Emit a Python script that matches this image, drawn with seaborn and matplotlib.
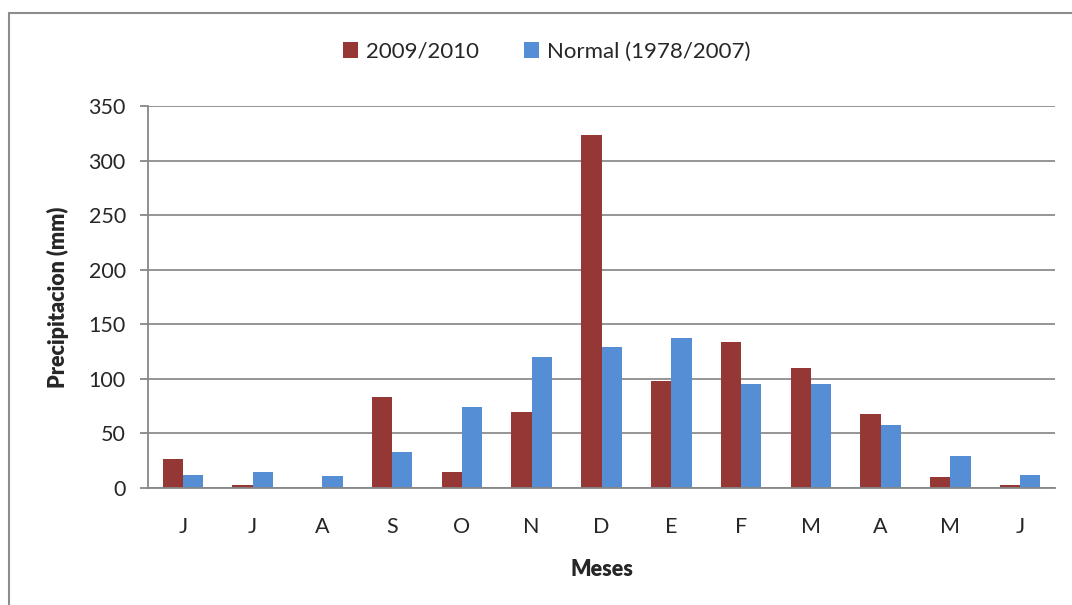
import matplotlib
matplotlib.use("Agg")
import matplotlib.pyplot as plt
import seaborn as sns
import pandas as pd
from matplotlib.lines import Line2D

months = ["J", "J", "A", "S", "O", "N", "D", "E", "F", "M", "A", "M", "J"]
series_names = ["2009/2010", "Normal (1978/2007)"]
vals_2009 = [27, 3, 0, 83, 15, 70, 323, 98, 134, 110, 68, 10, 3]
vals_normal = [12, 15, 11, 33, 74, 120, 129, 137, 95, 95, 58, 29, 12]
y_ticks = [0, 50, 100, 150, 200, 250, 300, 350]
colors = ["#953735", "#558ED5"]

rows = []
for i, m in enumerate(months):
    rows.append({"idx": i, "Serie": series_names[0], "val": vals_2009[i]})
    rows.append({"idx": i, "Serie": series_names[1], "val": vals_normal[i]})
df = pd.DataFrame(rows)

sns.set_theme(style="white")
plt.rcParams['font.family'] = ['Lato', 'DejaVu Sans']

fig = plt.figure(figsize=(10.72, 6.05), dpi=100)
ax = fig.add_axes([148/1072, 1-488/605, (1055-148)/1072, (488-106)/605])

sns.barplot(data=df, x="idx", y="val", hue="Serie", palette=colors,
            width=0.58, ax=ax, saturation=1, legend=True, linewidth=0)

ax.set_ylim(0, 350)
ax.set_xlim(-0.5, len(months) - 0.5)
ax.set_yticks(y_ticks)
ax.set_yticklabels([str(t) for t in y_ticks], fontsize=15.5)
ax.set_xticks(range(len(months)))
ax.set_xticklabels(months, fontsize=15.5)
ax.tick_params(axis="x", which="major", length=0, pad=21)
ax.set_xticks([i - 0.5 for i in range(len(months) + 1)], minor=True)
ax.tick_params(axis="x", which="minor", length=7, width=1.3, color="#878787", direction="out")
ax.tick_params(axis="y", length=6, width=1.3, color="#878787", direction="out", left=True, pad=10)

ax.yaxis.grid(True, color="#8c8c8c", linewidth=1.3)
ax.set_axisbelow(True)
for s in ["top", "right"]:
    ax.spines[s].set_visible(False)
for s in ["left", "bottom"]:
    ax.spines[s].set_color("#878787")
    ax.spines[s].set_linewidth(1.3)

ax.set_xlabel("Meses", fontsize=15.5, fontweight="heavy", labelpad=16)
ax.set_ylabel("Precipitacion (mm)", fontsize=15.5, fontweight="heavy", labelpad=14)

leg = ax.get_legend()
handles = leg.legend_handles
leg.remove()
fig.legend(handles, series_names, loc="center", bbox_to_anchor=(0.51, 1-52/605),
           ncol=2, frameon=False, fontsize=16, handlelength=0.7, handleheight=0.75,
           handletextpad=0.35, columnspacing=2.0)

fig.add_artist(Line2D([9/1072, 9/1072], [0, 1-13/605], color="#8c8c8c", linewidth=1.5, transform=fig.transFigure))
fig.add_artist(Line2D([9/1072, 1.0], [1-13/605, 1-13/605], color="#8c8c8c", linewidth=1.5, transform=fig.transFigure))

fig.savefig("out.png", dpi=100, facecolor="white")
